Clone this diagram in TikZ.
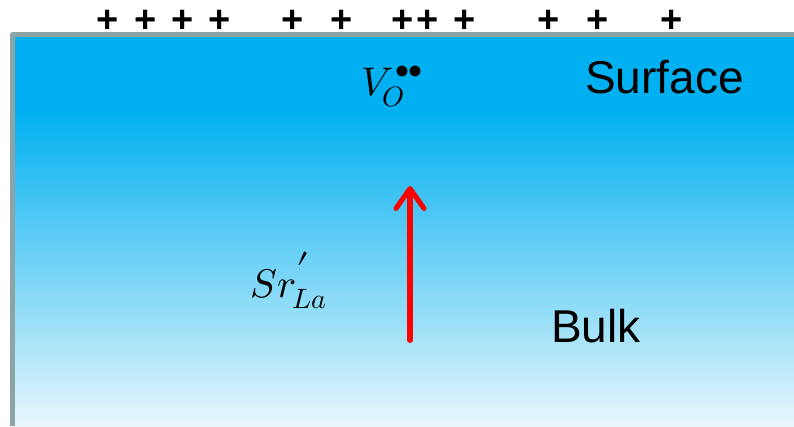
\documentclass[tikz,border=0pt]{standalone}
\usepackage{fontspec}
\usepackage{unicode-math}
\setmainfont{Liberation Sans}
\setmathfont{Latin Modern Math}
\usetikzlibrary{arrows.meta}
\definecolor{skytop}{RGB}{0,176,240}
\definecolor{skybot}{RGB}{232,247,252}
\definecolor{edgegray}{RGB}{140,164,166}
\definecolor{arrowred}{RGB}{255,0,0}
\tikzset{
  charge/.style={font=\fontsize{38}{38}\selectfont\bfseries, inner sep=0pt, anchor=center},
  label/.style={font=\fontsize{46}{50}\selectfont, inner sep=0pt, anchor=base west},
  defect/.style={font=\fontsize{40}{48}\selectfont, inner sep=0pt},
  flow/.style={draw=arrowred, line width=6pt, line cap=round,
    -{Straight Barb[round, length=20pt 0, width=28pt 0, line width=5pt]}}
}
\begin{document}
\begin{tikzpicture}[x=1pt,y=-1pt]
\useasboundingbox (0,0) rectangle (794,426);
\fill[white] (0,0) rectangle (794,426);
% solid top band and gradient
\fill[skytop] (14,36) rectangle (794,110);
\shade[top color=skytop, bottom color=skybot] (14,109.5) rectangle (794,426);
% gray edge
\draw[edgegray, line width=5pt, line join=round] (12.5,426) -- (12.5,34.5) -- (794,34.5);
% charges
\foreach \x/\n in {108/p1,146/p2,183/p3,220/p4,293/p5,342/p6,403/p7,428/p8,465/p9,549/p10,598/p11,672/p12}
  \node[charge] (\n) at (\x,21) {+};
% labels
\node[label] (surface) at (585,93) {Surface};
\node[label] (bulk) at (551,342) {Bulk};
\node[defect, anchor=base west] (vo) at (361,95) {$V_{\kern-2pt O}^{\kern2pt\raisebox{2pt}{$\scriptstyle\bullet\kern-1pt\bullet$}}$};
\node[defect, anchor=base west] (sr) at (250,297) {$Sr^{\kern1pt\raisebox{-7pt}{\scalebox{1.5}{$\scriptstyle\prime$}}}_{\kern-3pt La}$};
% arrow
\coordinate (arrowstart) at (410,340);
\coordinate (arrowend) at (410,186);
\draw[flow] (arrowstart) -- (arrowend);
\end{tikzpicture}
\end{document}
